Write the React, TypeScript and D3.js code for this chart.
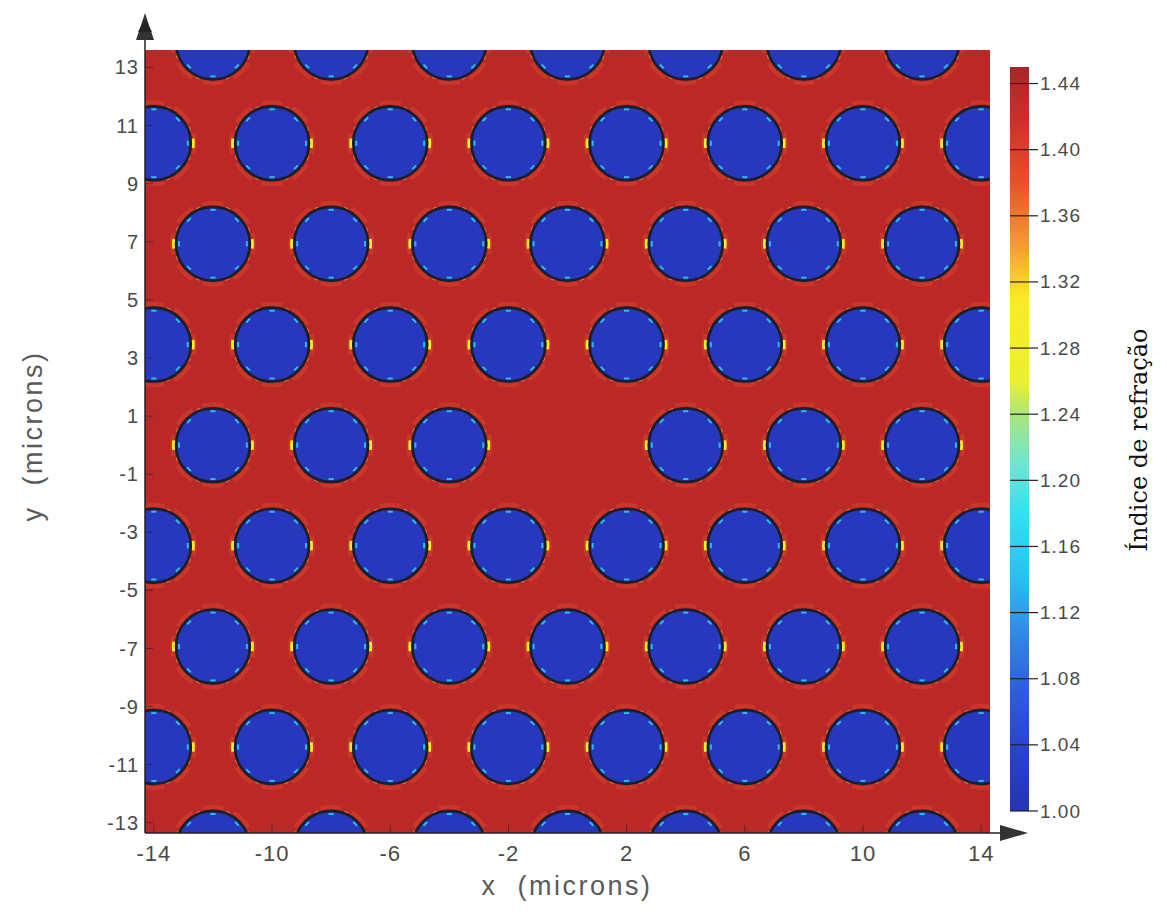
import React from 'react';
import * as d3 from 'd3';

// ---- data ----
const xTicks = [-14, -10, -6, -2, 2, 6, 10, 14];
const yTicks = [13, 11, 9, 7, 5, 3, 1, -1, -3, -5, -7, -9, -11, -13];
const cbTicks = [1.0, 1.04, 1.08, 1.12, 1.16, 1.2, 1.24, 1.28, 1.32, 1.36, 1.4, 1.44];
// hexagonal lattice rows (y, microns)
const rowY = [13.86, 10.39, 6.93, 3.46, 0, -3.46, -6.93, -10.39, -13.86];
const rowXShifted = [-12, -8, -4, 0, 4, 8, 12];
const rowXAligned = [-14, -10, -6, -2, 2, 6, 10, 14];
const defectHoles: [number, number][] = [[0, 0]];
const holeRadius = 1.25;
const nSilica = 1.435;
const nAir = 1.012;
// colormap
const cmapValues = [1.0, 1.03, 1.07, 1.11, 1.14, 1.18, 1.21, 1.24, 1.26, 1.31, 1.34, 1.38, 1.42, 1.45];
const cmapColors = [
  '#2634b4', '#283ecd', '#2d5ade', '#328ce6', '#2abef0', '#32e1f0', '#6ee6d2',
  '#aae678', '#ebf032', '#faeb28', '#f5a032', '#eb5028', '#cd2d2a', '#a82626',
];

const W = 1167;
const H = 914;
const PL = 145, PR = 990, PT = 50, PB = 833;

export default function App() {
  const x = d3.scaleLinear().domain([-14.3, 14.3]).range([PL, PR]);
  const y = d3.scaleLinear().domain([-13.35, 13.6]).range([PB, PT]);
  const cmap = d3.scaleLinear<string>().domain(cmapValues).range(cmapColors).interpolate(d3.interpolateRgb).clamp(true);
  const cb = d3.scaleLinear().domain([1.0, 1.45]).range([811, 67]);

  const holes: { cx: number; cy: number }[] = [];
  rowY.forEach((ry, i) => {
    const xs = i % 2 === 0 ? rowXShifted : rowXAligned;
    xs.forEach((hx) => {
      if (defectHoles.some(([dx, dy]) => dx === hx && dy === ry)) return;
      holes.push({ cx: hx, cy: ry });
    });
  });

  const rx = (r: number) => x(r) - x(0);
  const rPx = rx(holeRadius);
  const bg = cmap(nSilica);
  const holeFill = cmap(nAir);

  const tickFont = '"Liberation Sans", Arial, sans-serif';

  return (
    <svg width={W} height={H} style={{ position: 'absolute', left: 0, top: 0, background: '#fff' }}>
      <defs>
        <clipPath id="plotClip">
          <rect x={PL} y={PT} width={PR - PL} height={PB - PT} />
        </clipPath>
        <linearGradient id="cbGrad" x1="0" y1="1" x2="0" y2="0">
          {cmapValues.map((v, i) => (
            <stop key={i} offset={(v - 1.0) / 0.45} stopColor={cmapColors[i]} />
          ))}
        </linearGradient>
      </defs>

      {/* map */}
      <g clipPath="url(#plotClip)">
        <rect x={PL} y={PT} width={PR - PL} height={PB - PT} fill={bg} />
        {holes.map((h, i) => {
          const cx = x(h.cx);
          const cy = y(h.cy);
          return (
            <g key={i}>
              <circle cx={cx} cy={cy} r={rPx + 4} fill="none" stroke={cmap(1.38)} strokeWidth={4}
                pathLength={360} strokeDasharray="30 15" strokeDashoffset={-30} opacity={0.35} />
              <circle cx={cx} cy={cy} r={rPx + 2.5} fill="none" stroke={cmap(1.3)} strokeWidth={3}
                pathLength={360} strokeDasharray="14 166" strokeDashoffset={7} />
              <circle cx={cx} cy={cy} r={rPx + 1.5} fill="none" stroke={cmap(1.35)} strokeWidth={2}
                pathLength={360} strokeDasharray="6 39" strokeDashoffset={-20} opacity={0.7} />
              <circle cx={cx} cy={cy} r={rPx} fill={holeFill} stroke="#15202a" strokeWidth={2.6} />
              <circle cx={cx} cy={cy} r={rPx - 3} fill="none" stroke={cmap(1.15)} strokeWidth={2}
                pathLength={360} strokeDasharray="9 36" strokeDashoffset={4.5} opacity={0.9} />
            </g>
          );
        })}
      </g>

      {/* ticks inside */}
      {yTicks.map((t) => (
        <line key={'yt' + t} x1={PL} x2={PL + 8} y1={y(t)} y2={y(t)} stroke="#222" strokeWidth={1} opacity={0.6} />
      ))}
      {xTicks.map((t) => (
        <line key={'xt' + t} x1={x(t)} x2={x(t)} y1={PB} y2={PB - 8} stroke="#222" strokeWidth={1} opacity={0.6} />
      ))}

      {/* axes */}
      <line x1={PL} x2={PL} y1={36} y2={PB} stroke="#222" strokeWidth={1.5} />
      <line x1={PL} x2={1002} y1={PB} y2={PB} stroke="#222" strokeWidth={1.5} />
      <path d={`M${PL},13 L${PL - 9},40 L${PL + 9},40 Z`} fill="#333" />
      <path d={`M${PL},20 L${PL - 7},32 L${PL + 7},32 Z`} fill="#222" />
      <path d={`M1028,${PB} L1000,${PB - 8} L1000,${PB + 8} Z`} fill="#333" />

      {/* tick labels */}
      {xTicks.map((t) => (
        <text key={'xl' + t} x={x(t)} y={861} textAnchor="middle" fontFamily={tickFont} fontSize={22}
          letterSpacing={1} fill="#4a4a4a">{t}</text>
      ))}
      {yTicks.map((t) => (
        <text key={'yl' + t} x={139} y={y(t)} textAnchor="end" dominantBaseline="central" fontFamily={tickFont}
          fontSize={20} letterSpacing={1} fill="#4a4a4a">{t}</text>
      ))}

      {/* axis titles */}
      <text x={567} y={895} textAnchor="middle" fontFamily={tickFont} fontSize={27} letterSpacing={2.5}
        fill="#5a5a5a">{'x\u00A0\u00A0(microns)'}</text>
      <text transform={`translate(42,436) rotate(-90)`} textAnchor="middle" fontFamily={tickFont} fontSize={27}
        letterSpacing={2.5} fill="#5a5a5a">{'y\u00A0\u00A0(microns)'}</text>

      {/* colorbar */}
      <rect x={1010} y={cb(1.45)} width={19} height={cb(1.0) - cb(1.45)} fill="url(#cbGrad)" />
      {cbTicks.map((t) => (
        <g key={'cb' + t}>
          <line x1={1010} x2={1038} y1={cb(t)} y2={cb(t)} stroke="#222" strokeWidth={1.2} />
          <text x={1040} y={cb(t)} dominantBaseline="central" fontFamily={tickFont} fontSize={19}
            letterSpacing={1} fill="#4a4a4a">{t.toFixed(2)}</text>
        </g>
      ))}
      <text transform={`translate(1147,440) rotate(-90)`} textAnchor="middle" fontFamily='"DejaVu Serif", serif'
        fontSize={24} fill="#111">Índice de refração</text>
    </svg>
  );
}
